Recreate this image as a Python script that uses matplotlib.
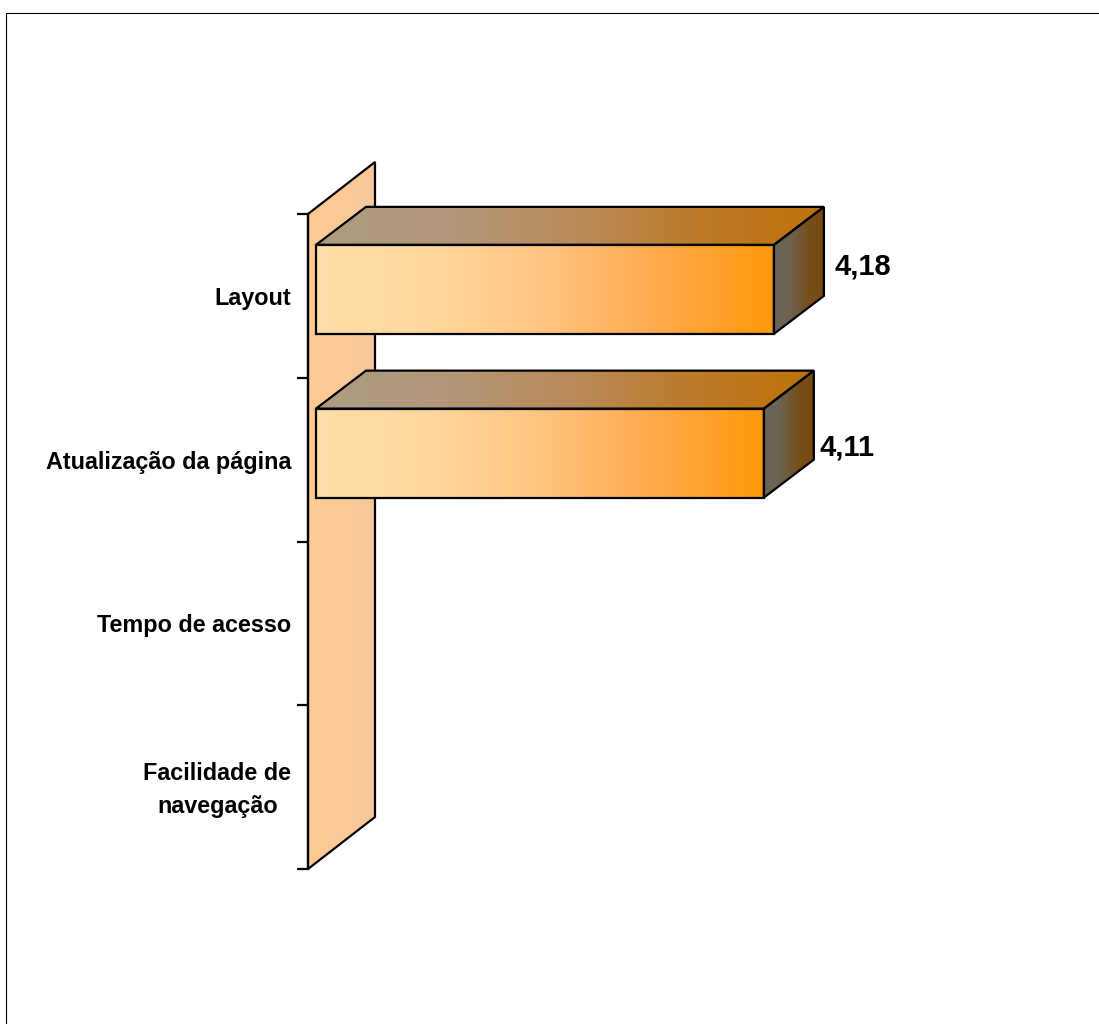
import matplotlib
matplotlib.use('Agg')
import matplotlib.pyplot as plt
import numpy as np
from matplotlib.colors import LinearSegmentedColormap
from matplotlib.lines import Line2D
from matplotlib.patches import Polygon
from matplotlib.transforms import Affine2D

plt.rcParams['font.family'] = ['Liberation Sans', 'DejaVu Sans']

# top to bottom, the last two have no bar in the chart
categories = ['Layout', 'Atualização da página', 'Tempo de acesso', 'Facilidade de\nnavegação']
values = [4.18, 4.11, np.nan, np.nan]
value_labels = ['4,18', '4,11', '', '']

W, H = 1099, 1024
LEFT, TOP, BOTTOM = 308, 214, 869
AX_W = 700
PX_PER_UNIT = 144.0
PX_PER_CAT = (BOTTOM - TOP) / 4
LW = 1.6

front_cm = LinearSegmentedColormap.from_list('front', ['#FFDEA9', '#FFD79C', '#FFC480', '#FFA94C', '#FF980A'])
top_cm = LinearSegmentedColormap.from_list('top', ['#AD9C80', '#B2977A', '#B98B5C', '#BC7A2A', '#BE7208'])
side_cm = LinearSegmentedColormap.from_list('side', ['#6C6658', '#6E6250', '#754F1E', '#7A4A0C'])
wall_cm = LinearSegmentedColormap.from_list('wall', ['#FFCB94', '#F6C89A'])

fig = plt.figure(figsize=(W / 100, H / 100), dpi=100, facecolor='white')
ax = fig.add_axes([LEFT / W, 1 - BOTTOM / H, AX_W / W, (BOTTOM - TOP) / H])
ax.patch.set_visible(False)

x0 = 1 - 8 / PX_PER_UNIT   # the axis starts at 1, bars sit 8 px off the wall
x1 = x0 + AX_W / PX_PER_UNIT
ylim = (3.5, -0.5)


def shaded(pts, cmap, zorder):
    # polygon with a left to right gradient
    pts = np.array(pts)
    im = ax.imshow(np.linspace(0, 1, 256).reshape(1, -1), cmap=cmap, aspect='auto',
                   extent=(pts[:, 0].min(), pts[:, 0].max(), pts[:, 1].max(), pts[:, 1].min()),
                   zorder=zorder, interpolation='bilinear')
    poly = Polygon(pts, closed=True, facecolor='none', edgecolor='black', linewidth=LW,
                   joinstyle='miter', zorder=zorder + 0.1, clip_on=False)
    ax.add_patch(poly)
    im.set_clip_path(poly)
    im.set_clip_box(fig.bbox)   # the 3d faces stick out of the axes


# back wall
wall_dx = 67 / PX_PER_UNIT
wall_dy = 52 / PX_PER_CAT
shaded([(x0, -0.5), (x0 + wall_dx, -0.5 - wall_dy), (x0 + wall_dx, 3.5 - wall_dy), (x0, 3.5)], wall_cm, 1)

# bars
depth_dx = 50 / PX_PER_UNIT
depth_dy = 38 / PX_PER_CAT
half = 44.5 / PX_PER_CAT
shift = -6.5 / PX_PER_CAT
label_off = [(61, 29), (56, 12)]

for i, v in enumerate(values):
    if np.isnan(v):
        continue
    t = i + shift - half
    b = i + shift + half
    shaded([(1, t), (v, t), (v, b), (1, b)], front_cm, 3)
    shaded([(1, t), (1 + depth_dx, t - depth_dy), (v + depth_dx, t - depth_dy), (v, t)], top_cm, 3)
    shaded([(v, t), (v + depth_dx, t - depth_dy), (v + depth_dx, b - depth_dy), (v, b)], side_cm, 3)
    ax.annotate(value_labels[i], xy=(v, i), xytext=label_off[i], textcoords='offset pixels',
                ha='left', va='center', fontsize=21, fontweight='bold', color='black',
                annotation_clip=False)

ax.set_xlim(x0, x1)
ax.set_ylim(*ylim)
ax.set_xticks([])

ax.set_yticks(range(len(categories)))
ax.set_yticklabels(categories, fontsize=16.8, fontweight='bold', linespacing=1.565)
ax.set_yticks(np.arange(-0.5, 4), minor=True)
ax.tick_params(axis='y', which='major', length=0, pad=12)
ax.tick_params(axis='y', which='minor', length=8, width=LW)

# has to come after tick_params, which resets the label transforms
for lab in ax.get_yticklabels():
    lab.set_multialignment('center')
    if '\n' in lab.get_text():
        lab.set_verticalalignment('center')
        lab.set_transform(lab.get_transform() + Affine2D().translate(0, -3))

for s in ['top', 'right', 'bottom']:
    ax.spines[s].set_visible(False)
ax.spines['left'].set_linewidth(LW)
ax.spines['left'].set_zorder(5)

# chart area border, runs off the image at right and bottom
fig.add_artist(Line2D([5.5 / W, 5.5 / W, 1], [0, 1 - 12.5 / H, 1 - 12.5 / H], color='black', linewidth=0.8))

fig.savefig('out.png', dpi=100)
